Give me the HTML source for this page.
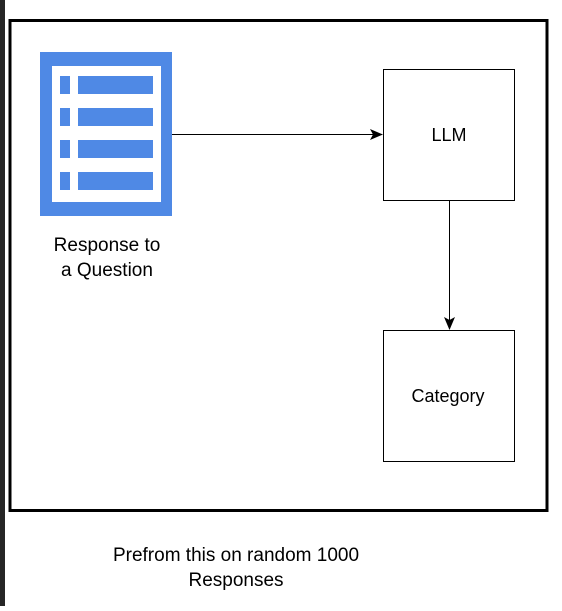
<!DOCTYPE html>
<html><head><style>
body{margin:0;width:562px;height:606px;background:#fff;overflow:hidden;font-family:"Liberation Sans",Arial,sans-serif;}
</style></head><body>
<svg width="562" height="606" viewBox="0 0 562 606" xmlns="http://www.w3.org/2000/svg">
<rect x="0" y="0" width="5" height="606" fill="#262626"/>
<rect x="10" y="20.5" width="537" height="490" fill="none" stroke="#000" stroke-width="3"/>
<rect x="40" y="52" width="132" height="164" fill="#4f89e5"/>
<rect x="52" y="66" width="109" height="136" fill="#fff"/>
<g fill="#4f89e5">
<rect x="60" y="76" width="10" height="18"/><rect x="78" y="76" width="75" height="18"/>
<rect x="60" y="108" width="10" height="18"/><rect x="78" y="108" width="75" height="18"/>
<rect x="60" y="140" width="10" height="18"/><rect x="78" y="140" width="75" height="18"/>
<rect x="60" y="172" width="10" height="18"/><rect x="78" y="172" width="75" height="18"/>
</g>
<line x1="172" y1="134.5" x2="376" y2="134.5" stroke="#000" stroke-width="1"/>
<polygon points="383,134.5 370,129 373,134.5 370,140" fill="#000"/>
<rect x="383.5" y="69.5" width="131" height="131" fill="#fff" stroke="#000" stroke-width="1"/>
<rect x="383.5" y="330.5" width="131" height="131" fill="#fff" stroke="#000" stroke-width="1"/>
<line x1="449.5" y1="200" x2="449.5" y2="323" stroke="#000" stroke-width="1"/>
<polygon points="449.5,330 444,317 449.5,320 455,317" fill="#000"/>
<g font-size="19" fill="#000" text-anchor="middle">
<text x="449" y="141" font-size="18">LLM</text>
<text x="448" y="402" font-size="18">Category</text>
<text x="107" y="251">Response to</text>
<text x="107" y="276">a Question</text>
<text x="236" y="561">Prefrom this on random 1000</text>
<text x="236" y="586">Responses</text>
</g>
</svg>
</body></html>
